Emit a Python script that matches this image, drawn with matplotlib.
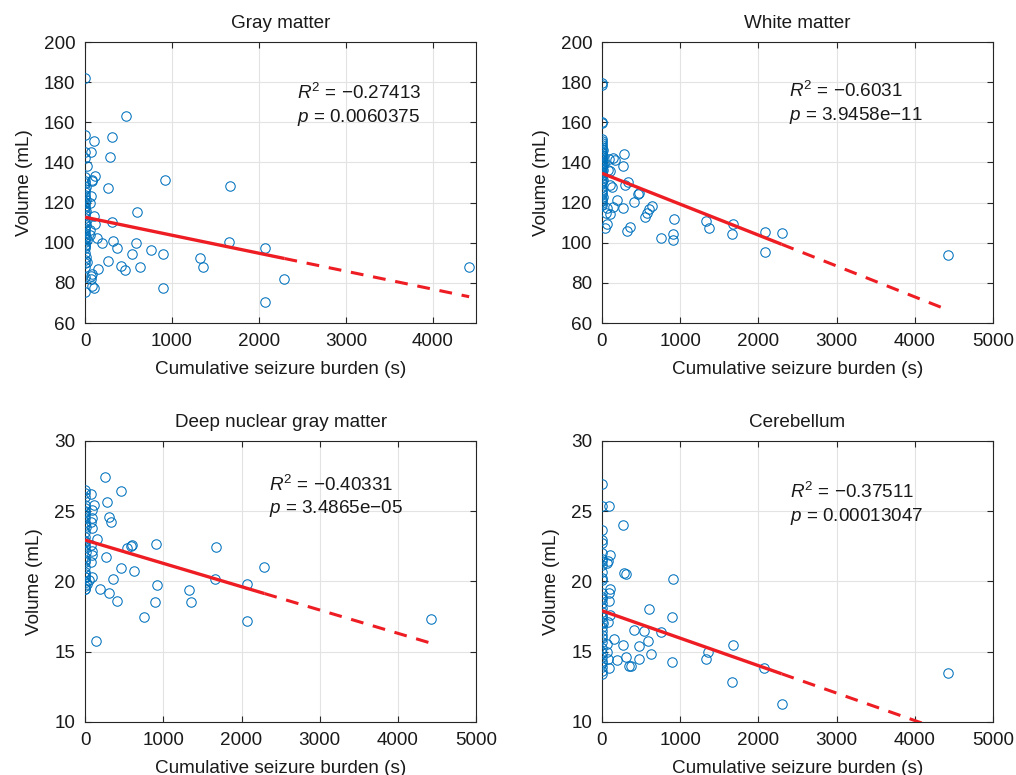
import numpy as np
import matplotlib
matplotlib.use("Agg")
import matplotlib.pyplot as plt

plt.rcParams["font.family"] = ["Liberation Sans", "DejaVu Sans"]
plt.rcParams["mathtext.fontset"] = "custom"
plt.rcParams["mathtext.rm"] = "Liberation Sans"
plt.rcParams["mathtext.it"] = "Liberation Sans:italic"

# --- data ---------------------------------------------------------------
titles = ["Gray matter", "White matter", "Deep nuclear gray matter", "Cerebellum"]
r2_text = ["\u22120.27413", "\u22120.6031", "\u22120.40331", "\u22120.37511"]
p_text = ["0.0060375", "3.9458e\u221211", "3.4865e\u221205", "0.00013047"]

# Gray matter
gm_x = [0, 0, 5, 0, 20, 0, 5, 0, 10, 0, 5, 0, 0, 10, 0, 5, 0, 0, 10, 0, 5, 0, 5, 0,
        10, 0, 0, 5, 0, 10, 0, 5, 0, 0, 5, 0, 10, 0, 23, 0, 0, 0, 5,
        73, 100, 307, 472, 288, 115, 84, 77, 917, 1668, 261, 73, 56, 595, 104, 315,
        109, 60, 58, 142, 192, 26, 326, 583, 1660, 365, 2075, 756, 537, 901, 1323,
        265, 1358, 633, 410, 464, 150, 4419, 2294, 894, 2075, 77, 69, 85, 105, 66]
gm_y = [182.2, 153.8, 145.4, 142.0, 138.2, 132.5, 131.0, 129.9, 128.0, 127.0, 125.4,
        124.0, 122.9, 121.3, 120.5, 119.6, 118.3, 117.1, 116.0, 115.5, 114.0, 112.2,
        111.0, 110.0, 108.8, 107.5, 106.3, 105.0, 103.8, 103.0, 101.8, 100.5, 99.0,
        98.5, 97.2, 94.7, 93.0, 91.4, 90.4, 90.0, 88.1, 83.1, 75.5,
        145.4, 150.7, 152.5, 163.1, 142.6, 133.0, 130.9, 131.1, 131.2, 128.1, 127.1,
        123.3, 119.6, 115.3, 113.5, 110.5, 109.3, 104.0, 106.4, 102.2, 100.0, 101.4,
        100.9, 100.0, 100.2, 97.2, 97.5, 96.2, 94.4, 94.5, 92.4, 90.9, 88.1, 88.0,
        88.4, 86.3, 87.1, 88.1, 81.9, 77.4, 70.3, 84.4, 81.8, 78.2, 77.2, 83.4]

# White matter
wm_x = [0, 0, 0, 0, 0, 0, 0, 5, 0, 0, 10, 0, 5, 0, 15, 0, 0, 5, 0, 20, 0, 0, 5, 0,
        10, 0, 0, 5, 0, 0, 10, 0, 5, 0, 0, 5, 0, 10, 0, 5, 0, 0,
        284, 137, 85, 162, 264, 77, 98, 332, 297, 106, 128, 468, 459, 191, 412, 638,
        603, 64, 137, 264, 106, 51, 574, 544, 918, 1327, 1675, 1365, 64, 43, 361,
        319, 2079, 2296, 910, 1667, 752, 906, 2079, 4422]
wm_y = [179.4, 178.6, 160.3, 159.5, 151.5, 150.5, 149.5, 148.5, 147.5, 146.5, 146.0,
        145.2, 144.5, 143.8, 143.2, 142.5, 141.8, 141.0, 140.2, 139.8, 139.0, 138.2,
        137.5, 136.8, 136.0, 135.2, 134.5, 133.7, 133.0, 132.2, 131.5, 130.8, 130.0,
        128.0, 126.5, 125.5, 124.5, 123.0, 122.0, 121.0, 120.0, 118.8,
        144.2, 142.1, 141.6, 141.2, 138.2, 136.2, 135.9, 130.4, 128.8, 128.8, 127.9,
        124.9, 124.1, 121.3, 120.1, 118.3, 116.6, 117.2, 117.6, 117.5, 114.3, 115.0,
        115.0, 113.0, 112.0, 110.8, 109.2, 107.3, 109.3, 107.2, 107.7, 105.7, 105.3,
        105.0, 104.5, 104.4, 102.2, 101.4, 95.2, 94.0]

# Deep nuclear gray matter
dn_x = [0, 5, 0, 0, 5, 0, 0, 5, 0, 10, 0, 0, 5, 0, 0, 10, 0, 5, 0, 0, 5, 0, 10, 0,
        5, 0, 20, 0, 0, 0, 0, 0,
        256, 73, 464, 285, 115, 94, 307, 328, 94, 73, 94, 150, 73, 94, 541, 584,
        605, 904, 1671, 94, 73, 265, 2293, 464, 627, 51, 362, 1662, 85, 2072, 917,
        192, 1326, 307, 413, 895, 1359, 754, 2076, 4416, 141]
dn_y = [26.51, 26.28, 26.0, 25.44, 25.21, 24.97, 24.73, 24.5, 24.26, 23.9, 23.55,
        23.19, 22.84, 22.6, 22.48, 22.12, 21.77, 21.41, 21.05, 20.7, 20.5, 20.34,
        19.99, 19.68, 19.5, 19.45, 19.8, 25.0, 24.0, 22.9, 21.5, 20.3,
        27.46, 26.2, 26.46, 25.68, 25.44, 25.09, 24.57, 24.21, 24.5, 24.26, 23.78,
        23.02, 22.6, 22.2, 22.41, 22.53, 22.6, 22.67, 22.48, 21.85, 21.4, 21.72,
        21.05, 20.94, 20.77, 20.1, 20.18, 20.16, 20.3, 19.82, 19.77, 19.45, 19.4,
        19.16, 18.64, 18.52, 18.55, 17.45, 17.21, 17.31, 15.79]

# Cerebellum
cb_x = [0, 0, 0, 0, 5, 0, 0, 5, 0, 0, 0, 0, 0, 5, 0, 0, 0, 5, 0, 0, 0, 10, 0, 0,
        0, 5, 0, 0, 0, 5, 0, 0, 0, 0, 0,
        85, 264, 106, 64, 77, 276, 306, 914, 106, 85, 85, 595, 901, 106, 77, 412,
        532, 753, 149, 264, 468, 587, 64, 64, 1675, 191, 310, 340, 374, 468, 629,
        893, 1331, 1361, 2070, 4422, 1667, 2296, 90, 80]
cb_y = [26.94, 25.37, 23.67, 22.95, 22.76, 22.0, 21.58, 21.48, 21.17, 20.7, 20.23,
        20.11, 19.16, 18.92, 18.73, 18.5, 18.09, 17.85, 17.62, 17.45, 17.14, 17.02,
        16.78, 16.5, 16.19, 15.96, 15.72, 15.24, 14.93, 14.65, 14.36, 14.18, 13.94,
        13.6, 13.42,
        25.37, 24.04, 21.89, 21.34, 21.46, 20.58, 20.53, 20.16, 19.44, 19.16, 18.63,
        18.02, 17.47, 17.6, 17.1, 16.57, 16.48, 16.43, 15.93, 15.5, 15.43, 15.79,
        15.57, 14.98, 15.5, 14.41, 14.63, 13.99, 13.96, 14.51, 14.82, 14.27, 14.51,
        15.0, 13.87, 13.51, 12.87, 11.26, 13.85, 14.5]

# linear fit
fit_b = [112.7, 134.6, 22.95, 17.92]
fit_m = [-0.00896, -0.0154, -0.00166, -0.001955]

xs = [gm_x, wm_x, dn_x, cb_x]
ys = [gm_y, wm_y, dn_y, cb_y]
ylims = [(60, 200), (60, 200), (10, 30), (10, 30)]
yticks = [np.arange(60, 201, 20), np.arange(60, 201, 20), np.arange(10, 31, 5), np.arange(10, 31, 5)]
xmax = [4500, 5000, 5000, 5000]
txt_pos = [(0.542, 0.819, 0.733), (0.477, 0.827, 0.740), (0.471, 0.843, 0.758), (0.480, 0.820, 0.733)]

# --- figure --------------------------------------------------------------
fig = plt.figure(figsize=(10.16, 7.75), dpi=100)
lefts = [0.0837, 0.5925, 0.0837, 0.5925]
bottoms = [0.5832, 0.5832, 0.0684, 0.0684]
fs = 13.6

for i in range(4):
    ax = fig.add_axes([lefts[i], bottoms[i], 0.385, 0.3626])
    x = np.array(xs[i], dtype=float)
    y = np.array(ys[i], dtype=float)

    ax.plot(x, y, "o", mfc="none", mec="#0072BD", ms=6.8, mew=0.75, zorder=3)

    xu = np.unique(x)
    x_end = xu[-2]
    x_far = xu[-1]
    xa = np.array([0, x_end])
    xb = np.array([x_end, x_far])
    ax.plot(xa, fit_b[i] + fit_m[i] * xa, color="#EE1D23", lw=2.4, zorder=4,
            solid_capstyle="butt")
    ax.plot(xb, fit_b[i] + fit_m[i] * xb, color="#EE1D23", lw=2.2, zorder=4,
            dashes=(4.2, 3.2))

    ax.set_xlim(0, xmax[i])
    ax.set_ylim(*ylims[i])
    ax.set_xticks(np.arange(0, xmax[i] + 1, 1000))
    ax.set_yticks(yticks[i])
    ax.grid(True, color="#e3e3e3", lw=0.8)
    ax.set_axisbelow(True)
    for s in ax.spines.values():
        s.set_color("#262626")
        s.set_linewidth(0.8)
    ax.tick_params(direction="in", top=True, right=True, length=4, width=0.8,
                   color="#262626", labelsize=fs, labelcolor="#1a1a1a", pad=7)

    ax.set_title(titles[i], fontsize=fs, pad=10, color="#1a1a1a")
    ax.set_xlabel("Cumulative seizure burden (s)", fontsize=fs, labelpad=8, color="#1a1a1a")
    ax.set_ylabel("Volume (mL)", fontsize=fs, labelpad=8, color="#1a1a1a")

    tx, ty1, ty2 = txt_pos[i]
    ax.text(tx, ty1, r"$R^2$ = " + r2_text[i], transform=ax.transAxes,
            fontsize=fs, va="center", ha="left", color="#1a1a1a")
    ax.text(tx, ty2, r"$p$ = " + p_text[i], transform=ax.transAxes,
            fontsize=fs, va="center", ha="left", color="#1a1a1a")

fig.savefig("out.png", dpi=100)
